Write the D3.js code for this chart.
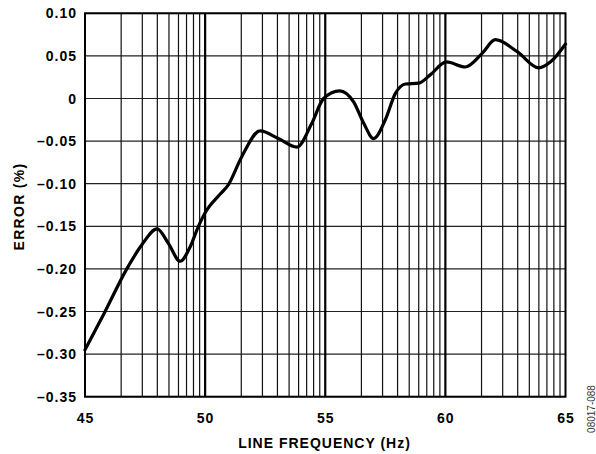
<!DOCTYPE html>
<html>
<head>
<meta charset="utf-8">
<script src="https://cdn.jsdelivr.net/npm/d3@7"></script>
<style>
  html, body { margin: 0; padding: 0; background: #fff; }
  text { font-family: "Liberation Sans", Arial, sans-serif; }
</style>
</head>
<body>
<svg id="chart" width="596" height="454"></svg>
<script>
// Data
const freqHz = [45.0, 45.8, 46.74, 47.36, 48.0, 48.47, 48.96, 49.38, 49.72, 50.0, 50.6, 50.95, 51.53, 52.29, 53.05, 53.82, 54.44, 54.93, 55.6, 56.18, 56.6, 57.01, 57.5, 57.92, 58.33, 58.89, 59.38, 60.04, 60.83, 61.53, 62.08, 62.99, 63.89, 64.38, 65.0];
const errorPct = [-0.295, -0.252, -0.200, -0.172, -0.153, -0.170, -0.191, -0.174, -0.150, -0.134, -0.113, -0.102, -0.068, -0.038, -0.047, -0.057, -0.029, 0.000, 0.009, -0.004, -0.029, -0.047, -0.025, 0.006, 0.017, 0.018, 0.028, 0.043, 0.037, 0.053, 0.069, 0.055, 0.036, 0.043, 0.064];
const xTicks = [45, 50, 55, 60, 65];
const yTicks = [0.10, 0.05, 0, -0.05, -0.10, -0.15, -0.20, -0.25, -0.30, -0.35];
const yTickLabels = ["0.10", "0.05", "0", "\u20130.05", "\u20130.10", "\u20130.15", "\u20130.20", "\u20130.25", "\u20130.30", "\u20130.35"];
const minorMultipliers = [2, 3, 4, 5, 6, 7, 8, 9];
const xTitle = "LINE FREQUENCY (Hz)";
const yTitle = "ERROR (%)";
const figId = "08017-088";

const svg = d3.select("#chart");
const margin = { left: 85, right: 30.5, top: 13.3, bottom: 57.3 };
const W = 596, H = 454;
const x = d3.scaleLinear().domain([45, 65]).range([margin.left, W - margin.right]);
const y = d3.scaleLinear().domain([-0.35, 0.10]).range([H - margin.bottom, margin.top]);

const g = svg.append("g");

// Horizontal grid
g.selectAll("line.hgrid").data(yTicks).join("line")
  .attr("x1", x(45)).attr("x2", x(65))
  .attr("y1", d => y(d)).attr("y2", d => y(d))
  .attr("stroke", "#222").attr("stroke-width", 1.2);

// Vertical minor grid: log-decade pattern within each 5 Hz segment
const minorPos = [];
for (let i = 0; i < xTicks.length - 1; i++) {
  minorMultipliers.forEach(k => minorPos.push(xTicks[i] + 5 * Math.log10(k)));
}
g.selectAll("line.vminor").data(minorPos).join("line")
  .attr("x1", d => x(d)).attr("x2", d => x(d))
  .attr("y1", y(0.10)).attr("y2", y(-0.35))
  .attr("stroke", "#111").attr("stroke-width", 1.2);

// Vertical major grid
g.selectAll("line.vmajor").data(xTicks.slice(1, -1)).join("line")
  .attr("x1", d => x(d)).attr("x2", d => x(d))
  .attr("y1", y(0.10)).attr("y2", y(-0.35))
  .attr("stroke", "#000").attr("stroke-width", 2.2);

// Frame
g.append("rect")
  .attr("x", x(45)).attr("y", y(0.10))
  .attr("width", x(65) - x(45)).attr("height", y(-0.35) - y(0.10))
  .attr("fill", "none").attr("stroke", "#000").attr("stroke-width", 2);

// Curve
const pts = freqHz.map((f, i) => [f, errorPct[i]]);
g.append("path")
  .datum(pts)
  .attr("d", d3.line().x(d => x(d[0])).y(d => y(d[1])).curve(d3.curveMonotoneX))
  .attr("fill", "none").attr("stroke", "#000").attr("stroke-width", 3.2)
  .attr("stroke-linejoin", "round").attr("stroke-linecap", "round");

// Y tick labels
g.selectAll("text.ylab").data(yTicks).join("text")
  .attr("x", x(45) - 8).attr("y", d => y(d)).attr("dy", "0.36em")
  .attr("text-anchor", "end").attr("font-size", 14).attr("font-weight", "bold")
  .attr("letter-spacing", 1)
  .text((d, i) => yTickLabels[i]);

// X tick labels
g.selectAll("text.xlab").data(xTicks).join("text")
  .attr("x", d => x(d) + 0.5).attr("y", 423)
  .attr("text-anchor", "middle").attr("font-size", 14).attr("font-weight", "bold")
  .attr("letter-spacing", 1)
  .text(d => d);

// Axis titles
svg.append("text").attr("x", 324.5).attr("y", 448.3)
  .attr("text-anchor", "middle").attr("font-size", 14).attr("font-weight", "bold")
  .attr("letter-spacing", 1)
  .text(xTitle);
svg.append("text").attr("transform", `translate(23.5,206.5) rotate(-90)`)
  .attr("text-anchor", "middle").attr("font-size", 14).attr("font-weight", "bold")
  .attr("letter-spacing", 1.3)
  .text(yTitle);

// Figure id
svg.append("text").attr("transform", "translate(595,409) rotate(-90)")
  .attr("text-anchor", "middle").attr("font-size", 10).attr("fill", "#333")
  .text(figId);
</script>
</body>
</html>
